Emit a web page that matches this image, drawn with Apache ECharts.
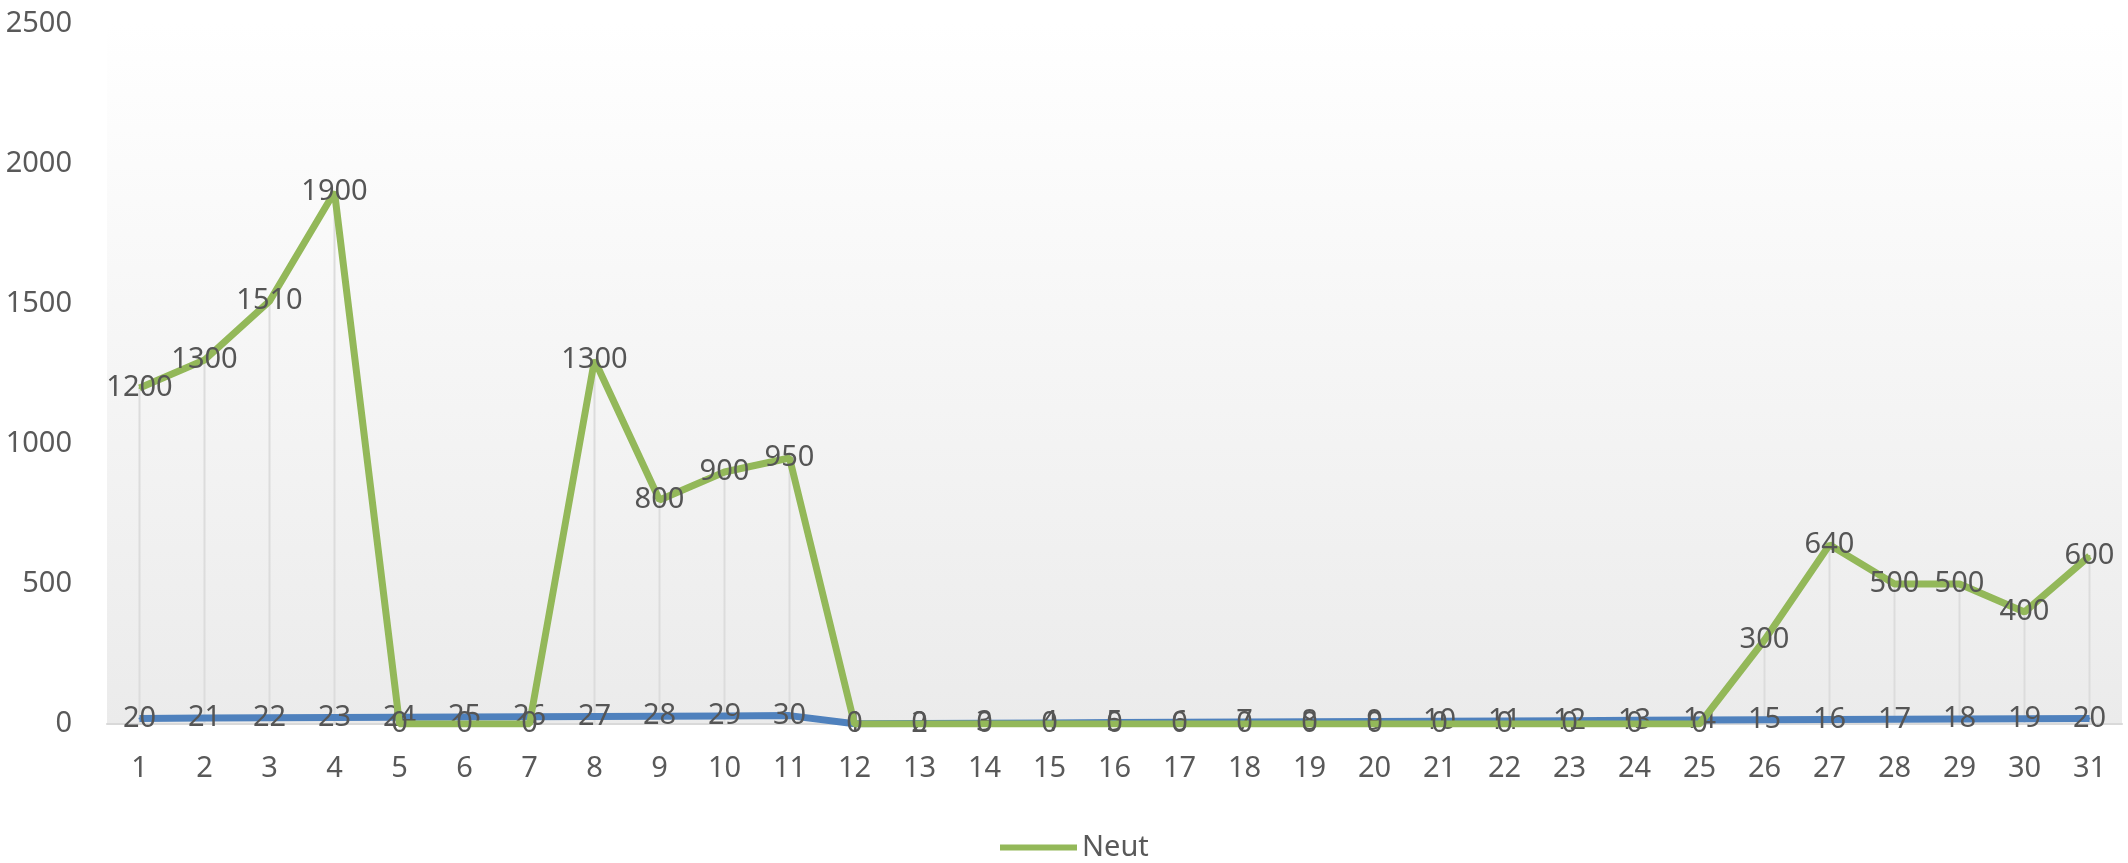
<!DOCTYPE html>
<html>
<head>
<meta charset="utf-8">
<script src="https://cdn.jsdelivr.net/npm/echarts@6/dist/echarts.min.js"></script>
<style>
html,body{margin:0;padding:0;background:#fff;}
#chart{width:2128px;height:863px;}
</style>
</head>
<body>
<div id="chart"></div>
<script>
const categories = ['1','2','3','4','5','6','7','8','9','10','11','12','13','14','15','16','17','18','19','20','21','22','23','24','25','26','27','28','29','30','31'];
const neut = [1200,1300,1510,1900,0,0,0,1300,800,900,950,0,0,0,0,0,0,0,0,0,0,0,0,0,0,300,640,500,500,400,600];
const day = [20,21,22,23,24,25,26,27,28,29,30,1,2,3,4,5,6,7,8,9,10,11,12,13,14,15,16,17,18,19,20];
const yTicks = {min:0, max:2500, interval:500};

const FONT = 'Noto Sans';
const chart = echarts.init(document.getElementById('chart'), null, {renderer:'canvas'});
chart.setOption({
  animation:false,
  backgroundColor:'#ffffff',
  textStyle:{fontFamily:FONT},
  grid:{
    left:107, right:6, top:24, bottom:139,
    show:true, borderWidth:0,
    backgroundColor:{type:'linear',x:0,y:0,x2:0,y2:1,colorStops:[{offset:0,color:'#ffffff'},{offset:1,color:'#ebebeb'}]}
  },
  legend:{
    data:['Neut'], left:995, top:828,
    icon:'rect', itemWidth:77, itemHeight:6, itemGap:8,
    textStyle:{fontFamily:FONT, fontSize:29, color:'#595959'}
  },
  xAxis:{
    type:'category', data:categories, boundaryGap:true,
    axisLine:{show:true, lineStyle:{color:'#d9d9d9', width:2}},
    axisTick:{show:false},
    axisLabel:{fontFamily:FONT, fontSize:29, color:'#595959', margin:30, interval:0},
    splitLine:{show:false}
  },
  yAxis:{
    type:'value', min:yTicks.min, max:yTicks.max, interval:yTicks.interval,
    axisLine:{show:false}, axisTick:{show:false}, splitLine:{show:false},
    axisLabel:{fontFamily:FONT, fontSize:29, color:'#595959', margin:35, formatter:function(v){return String(v);}}
  },
  series:[
    {
      name:'drop', type:'bar', data:neut, barWidth:2, silent:true,
      itemStyle:{color:'#dcdcdc'}, z:1
    },
    {
      name:'Day', type:'line', data:day, symbol:'circle', symbolSize:2, showSymbol:true,
      lineStyle:{color:'#4F81BD', width:7}, itemStyle:{color:'#4F81BD'},
      label:{show:true, position:'inside', fontFamily:FONT, fontSize:29, color:'#555555'},
      labelLayout:{hideOverlap:false}, z:2
    },
    {
      name:'Neut', type:'line', data:neut, symbol:'circle', symbolSize:2, showSymbol:true,
      lineStyle:{color:'#93B859', width:7}, itemStyle:{color:'#93B859'},
      label:{show:true, position:'inside', fontFamily:FONT, fontSize:29, color:'#555555', offset:[0,-3]},
      labelLayout:{hideOverlap:false}, z:3
    }
  ]
});
</script>
</body>
</html>
